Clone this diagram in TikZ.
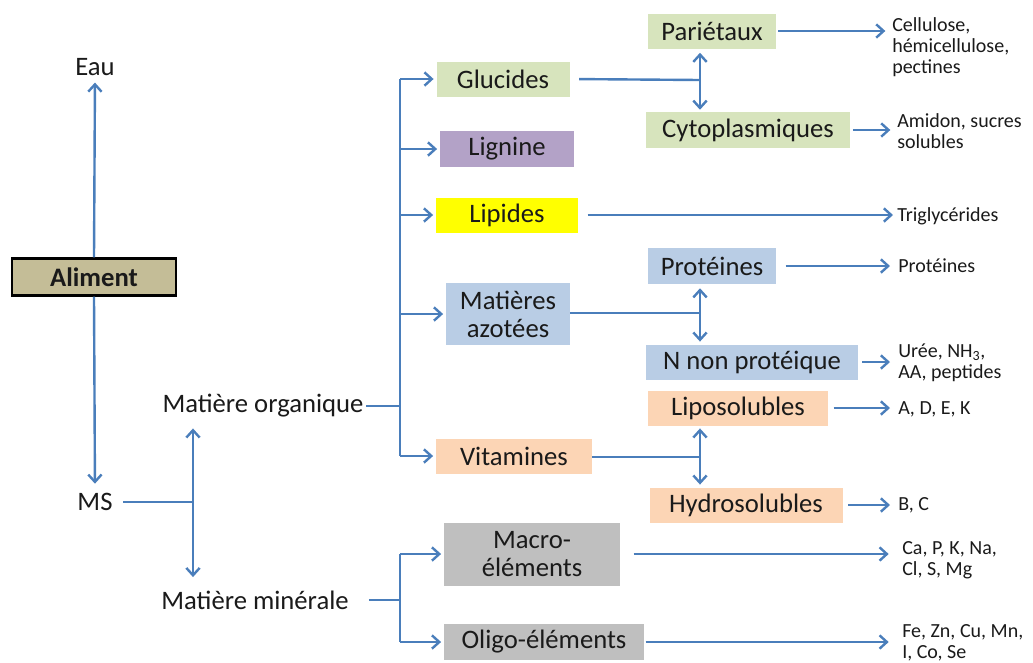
\documentclass[tikz,border=0pt]{standalone}
\usepackage{fontspec}
\setmainfont{Carlito}
\usetikzlibrary{arrows.meta}
\definecolor{arr}{HTML}{4A7EBB}
\definecolor{txt}{HTML}{1A1A1A}
\definecolor{gGreen}{HTML}{D7E4BD}
\definecolor{gPurple}{HTML}{B3A2C7}
\definecolor{gYellow}{HTML}{FFFF00}
\definecolor{gBlue}{HTML}{B9CDE5}
\definecolor{gPeach}{HTML}{FCD5B5}
\definecolor{gGrey}{HTML}{BFBFBF}
\definecolor{gTan}{HTML}{C4BD97}
\begin{document}
\begin{tikzpicture}[x=0.75pt,y=-0.75pt,
 every node/.style={text=txt, inner sep=0pt, align=center},
 big/.style={font=\fontsize{20}{21}\selectfont},
 small/.style={font=\fontsize{15}{15.6}\selectfont, align=left, anchor=west},
 cbox/.style n args={3}{big, fill=#1, minimum width=#2*0.75pt, minimum height=#3*0.75pt},
 con/.style={draw=arr, line width=1.8pt},
 arw/.style={con, -{Straight Barb[length=5.5pt,width=10pt]}},
 darw/.style={con, {Straight Barb[length=5.5pt,width=10pt]}-{Straight Barb[length=5.5pt,width=10pt]}},
]
\useasboundingbox (0,0) rectangle (1033,662);

% level 0
\node (eau) at (95,67) [big] {Eau};
\node (ali) at (94,277) [cbox={gTan}{164}{37}, draw=black, line width=1.8pt, font=\bfseries\fontsize{20}{21}\selectfont] {Aliment};
\node (ms) at (95,502) [big] {MS};
\node (mo) at (263,406) [big] {Matière organique};
\node (mm) at (255,600) [big] {Matière minérale};

\draw[arw, shorten >=5pt] (ali.north) -- (eau.south);
\draw[arw, shorten >=7pt] (ali.south) -- (ms.north);
\coordinate (msj) at (193,502);
\draw[con, shorten <=8pt] (ms.east) -- (msj);
\draw[darw, shorten <=8pt, shorten >=10pt] (msj |- mo.south) -- (msj |- mm.north);

% level 1
\node (glu) at (503,79)  [cbox={gGreen}{133}{35}]  {Glucides};
\node (lig) at (507,149) [cbox={gPurple}{134}{36}] {Lignine};
\node (lip) at (507,215) [cbox={gYellow}{142}{35}] {Lipides};
\node (azo) at (508,314) [cbox={gBlue}{124}{62}]   {Matières\\azotées};
\node (vit) at (514,456) [cbox={gPeach}{156}{35}]  {Vitamines};
\node (mac) at (532,554) [cbox={gGrey}{176}{63}]   {Macro-\\éléments};
\node (oli) at (544,642) [cbox={gGrey}{200}{36}]   {Oligo-éléments};

\coordinate (bo) at (400,406);
\draw[con, shorten <=2pt] (mo.east) -- (bo);
\draw[con] (bo |- glu) -- (bo |- vit);
\foreach \n in {glu,lig,lip,azo,vit}
  \draw[arw, shorten >=2pt] (bo |- \n) -- (\n.west);

\coordinate (bm) at (400,600);
\draw[con, shorten <=15pt] (mm.east) -- (bm);
\draw[con] (bm |- mac) -- (bm |- oli);
\foreach \n in {mac,oli}
  \draw[arw, shorten >=2pt] (bm |- \n) -- (\n.west);

% level 2
\node (par) at (712,31)  [cbox={gGreen}{128}{35}] {Pariétaux};
\node (cyt) at (748,130) [cbox={gGreen}{204}{36}] {Cytoplasmiques};
\node (pro) at (712,266) [cbox={gBlue}{128}{36}]  {Protéines};
\node (nnp) at (752,362) [cbox={gBlue}{212}{35}]  {N non protéique};
\node (lps) at (738,408) [cbox={gPeach}{180}{35}] {Liposolubles};
\node (hyd) at (746,505) [cbox={gPeach}{193}{35}] {Hydrosolubles};

\coordinate (jg) at (700,80);
\draw[con, shorten <=7pt] (glu.east) -- (jg);
\draw[darw, shorten <=3pt, shorten >=1.5pt] (par.south -| jg) -- (cyt.north -| jg);

\coordinate (ja) at (700,313);
\draw[con] (azo.east |- ja) -- (ja);
\draw[darw, shorten <=3pt, shorten >=2pt] (pro.south -| ja) -- (nnp.north -| ja);

\coordinate (jv) at (700,457);
\draw[con] (vit.east |- jv) -- (jv);
\draw[darw, shorten <=2pt, shorten >=2pt] (lps.south -| jv) -- (hyd.north -| jv);

% level 3
\node (cel) at (892,47)  [small] {Cellulose,\\hémicellulose,\\pectines};
\node (ami) at (897,131) [small] {Amidon, sucres\\solubles};
\node (tri) at (897,216) [small] {Triglycérides};
\node (prt) at (898,266) [small] {Protéines};
\node (ure) at (898,363) [small] {Urée, NH\textsubscript{3},\\AA, peptides};
\node (ade) at (898,409) [small] {A, D, E, K};
\node (bc)  at (898,505) [small] {B, C};
\node (cap) at (902,560) [small] {Ca, P, K, Na,\\Cl, S, Mg};
\node (fez) at (902,643) [small] {Fe, Zn, Cu, Mn,\\I, Co, Se};

\draw[arw, shorten <=1.5pt, shorten >=5pt] (par.east) -- (par.east -| cel.west);
\draw[arw, shorten <=2pt, shorten >=5pt] (cyt.east) -- (cyt.east -| ami.west);
\draw[arw, shorten <=7pt, shorten >=3pt] (lip.east) -- (lip.east -| tri.west);
\draw[arw, shorten <=7pt, shorten >=6pt] (pro.east) -- (pro.east -| prt.west);
\draw[arw, shorten <=3pt, shorten >=6pt] (nnp.east) -- (nnp.east -| ure.west);
\draw[arw, shorten <=4pt, shorten >=6pt] (lps.east) -- (lps.east -| ade.west);
\draw[arw, shorten <=4pt, shorten >=6pt] (hyd.east) -- (hyd.east -| bc.west);
\draw[arw, shorten <=10pt, shorten >=10pt] (mac.east) -- (mac.east -| cap.west);
\draw[arw, shorten <=1pt, shorten >=10pt] (oli.east) -- (oli.east -| fez.west);
\end{tikzpicture}
\end{document}
